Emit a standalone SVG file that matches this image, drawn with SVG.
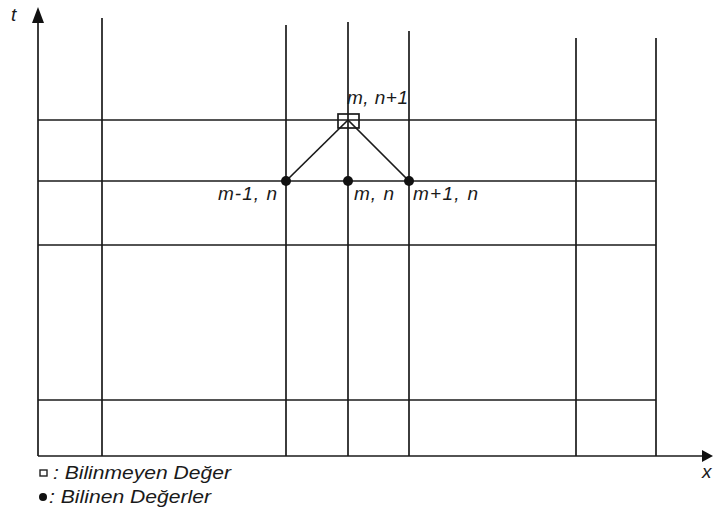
<svg xmlns="http://www.w3.org/2000/svg" width="713" height="512" viewBox="0 0 713 512">
<style>
.g{stroke:#1a1a1a;stroke-width:1.7;fill:none}
.t{font-family:"Liberation Sans",Arial,sans-serif;font-style:italic;font-size:19px;fill:#1a1a1a}
.l{font-size:19px}
</style>
<rect width="713" height="512" fill="#fff"/>
<g id="grid" class="g">
<line x1="102" y1="18" x2="102" y2="456"/>
<line x1="286" y1="25" x2="286" y2="456"/>
<line x1="348" y1="22" x2="348" y2="456"/>
<line x1="409" y1="31" x2="409" y2="456"/>
<line x1="576" y1="38" x2="576" y2="456"/>
<line x1="656" y1="38" x2="656" y2="456"/>
<line x1="38" y1="120" x2="656" y2="120"/>
<line x1="38" y1="181" x2="656" y2="181"/>
<line x1="38" y1="245" x2="656" y2="245"/>
<line x1="38" y1="400" x2="656" y2="400"/>
</g>
<g id="axes">
<line x1="38" y1="456" x2="38" y2="20" class="g" stroke-width="2"/>
<polygon points="38,7 32,23 44,23" fill="#111"/>
<line x1="38" y1="456" x2="705" y2="456" class="g" stroke-width="2"/>
<polygon points="713,456 702,450 702,462" fill="#111"/>
<text class="t" x="11" y="21" font-size="18">t</text>
<text class="t" x="702" y="478" font-size="17">x</text>
</g>
<g id="connectors" class="g" stroke-width="2">
<line x1="348" y1="120" x2="286" y2="181"/>
<line x1="348" y1="120" x2="409" y2="181"/>
</g>
<g id="node-unknown">
<rect x="338" y="114" width="21" height="14" class="g" stroke-width="1.6"/>
<text class="t" x="347" y="104" textLength="61" lengthAdjust="spacing">m, n+1</text>
</g>
<g id="node-m-1">
<circle cx="286" cy="181" r="5" fill="#111"/>
<text class="t" x="218" y="200" textLength="59" lengthAdjust="spacing">m-1, n</text>
</g>
<g id="node-m">
<circle cx="348" cy="181" r="5" fill="#111"/>
<text class="t" x="354" y="200" textLength="40" lengthAdjust="spacing">m, n</text>
</g>
<g id="node-m+1">
<circle cx="409" cy="181" r="5" fill="#111"/>
<text class="t" x="413" y="200" textLength="65" lengthAdjust="spacing">m+1, n</text>
</g>
<g id="legend">
<rect x="40" y="470" width="7" height="6" fill="none" stroke="#222" stroke-width="1.4"/>
<text class="t l" x="53" y="479" textLength="178" lengthAdjust="spacingAndGlyphs">: Bilinmeyen Değer</text>
<circle cx="43" cy="497" r="4" fill="#111"/>
<text class="t l" x="49" y="503" textLength="162" lengthAdjust="spacingAndGlyphs">: Bilinen Değerler</text>
</g>
</svg>
